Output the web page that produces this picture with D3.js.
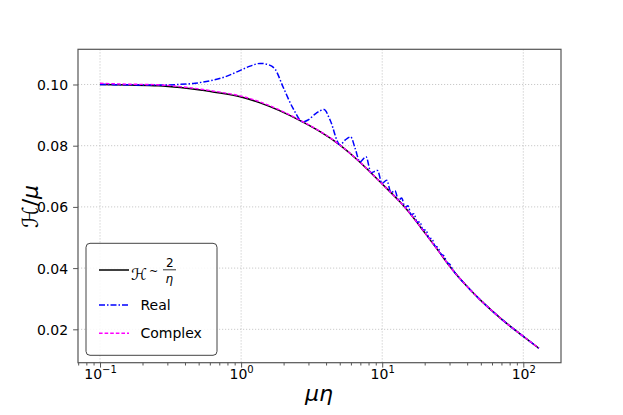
<!DOCTYPE html>
<html>
<head>
<meta charset="utf-8">
<script src="https://cdn.jsdelivr.net/npm/d3@7"></script>
<style>
  html, body { margin: 0; padding: 0; background: #fff; }
  svg { display: block; font-family: "DejaVu Sans", sans-serif; }
</style>
</head>
<body>
<svg id="chart" width="623" height="415"></svg>
<script>
// ---- data ----
const blackX = [0.1, 0.164, 0.258, 0.370, 0.513, 0.710, 1.0, 1.363, 1.89, 2.62, 3.63, 5.02, 6.96, 10, 13.4, 15.7, 18.5, 21.8, 25.7, 30.2, 35.5, 41.9, 49.3, 61.2, 77.8, 100, 128.9];
const blackY = [0.1000, 0.0998, 0.0996, 0.0990, 0.0982, 0.0972, 0.0959, 0.0940, 0.0914, 0.0882, 0.0846, 0.0802, 0.0746, 0.0675, 0.0616, 0.0579, 0.0537, 0.0493, 0.0449, 0.0405, 0.0366, 0.0330, 0.0297, 0.0257, 0.0216, 0.0177, 0.0138];

const complexX = [0.1, 0.164, 0.258, 0.370, 0.513, 0.710, 1.0, 1.363, 1.89, 2.62, 3.63, 5.02, 6.96, 10, 13.4, 15.7, 18.5, 21.8, 25.7, 30.2, 35.5, 41.9, 49.3, 61.2, 77.8, 100, 128.9];
const complexY = [0.1004, 0.1001, 0.0999, 0.0993, 0.0985, 0.0975, 0.0962, 0.0943, 0.0916, 0.0883, 0.0847, 0.0802, 0.0746, 0.0675, 0.0616, 0.0579, 0.0537, 0.0493, 0.0449, 0.0405, 0.0366, 0.0330, 0.0297, 0.0257, 0.0216, 0.0177, 0.0138];

const realX = [0.1, 0.164, 0.258, 0.358, 0.472, 0.613, 0.770, 0.953, 1.158, 1.363, 1.553, 1.741, 1.983, 2.334, 2.735, 2.98, 3.40, 3.87, 4.27, 5.02, 5.45, 5.98, 6.42, 6.96, 7.68, 8.33, 9.26, 9.97, 10.76, 11.54, 12.32, 13.04, 13.74, 14.51, 15.23, 16.00, 16.80, 17.64, 18.52, 19.45, 20.43, 21.45, 22.53, 23.65, 24.85, 26.09, 27.40, 28.77, 30.21, 31.72, 35.5, 41.9, 49.3, 61.2, 77.8, 100, 128.9];
const realY = [0.1000, 0.0999, 0.0998, 0.1000, 0.1004, 0.1013, 0.1025, 0.1043, 0.1060, 0.1069, 0.1065, 0.1050, 0.0992, 0.0922, 0.0878, 0.0884, 0.0906, 0.0918, 0.0884, 0.0803, 0.0818, 0.0829, 0.0792, 0.0747, 0.0764, 0.0712, 0.0719, 0.0677, 0.0687, 0.0647, 0.0653, 0.0622, 0.0629, 0.0598, 0.0604, 0.0575, 0.0578, 0.0550, 0.0551, 0.0525, 0.0524, 0.0498, 0.0496, 0.0472, 0.0467, 0.0446, 0.0440, 0.0419, 0.0412, 0.0394, 0.0366, 0.0330, 0.0297, 0.0257, 0.0216, 0.0177, 0.0138];

const yTicks = [0.02, 0.04, 0.06, 0.08, 0.10];
const xMajorTicks = [0.1, 1, 10, 100];
const xTickExponents = ["\u22121", "0", "1", "2"];
const xMinorTicks = [0.07, 0.08, 0.09, 0.2, 0.3, 0.4, 0.5, 0.6, 0.7, 0.8, 0.9, 2, 3, 4, 5, 6, 7, 8, 9, 20, 30, 40, 50, 60, 70, 80, 90];
const legendLabels = ["Real", "Complex"];

// ---- layout ----
const L = 78, R = 561, T = 49.3, B = 362.7;
const svg = d3.select("#chart");

const x = d3.scaleLog().domain([0.0698, 185]).range([L, R]);
const y = d3.scaleLinear().domain([0.00909, 0.1115]).range([B, T]);

// grid
const grid = svg.append("g").attr("stroke", "#c4c4c4").attr("stroke-width", 0.9).attr("stroke-dasharray", "1.2,1.8");
grid.selectAll("line.gx").data(xMajorTicks).enter().append("line")
  .attr("x1", d => x(d)).attr("x2", d => x(d)).attr("y1", T).attr("y2", B);
grid.selectAll("line.gy").data(yTicks).enter().append("line")
  .attr("x1", L).attr("x2", R).attr("y1", d => y(d)).attr("y2", d => y(d));

// lines
const smooth = d3.line().x(d => x(d[0])).y(d => y(d[1])).curve(d3.curveNatural);
const wavy = d3.line().x(d => x(d[0])).y(d => y(d[1])).curve(d3.curveMonotoneX);
const zip = (a, b) => a.map((v, i) => [v, b[i]]);

svg.append("path").attr("d", smooth(zip(blackX, blackY)))
  .attr("fill", "none").attr("stroke", "#000").attr("stroke-width", 1.5);
svg.append("path").attr("d", wavy(zip(realX, realY)))
  .attr("fill", "none").attr("stroke", "#0000ff").attr("stroke-width", 1.5)
  .attr("stroke-dasharray", "6,2,1.5,2");
svg.append("path").attr("d", smooth(zip(complexX, complexY)))
  .attr("fill", "none").attr("stroke", "#ff00ff").attr("stroke-width", 1.4)
  .attr("stroke-dasharray", "3.6,2");

// axes
const axisColor = "#555";
const yAxis = svg.append("g").attr("transform", `translate(${L},0)`)
  .call(d3.axisLeft(y).tickValues(yTicks).tickFormat(d3.format(".2f")).tickSize(4.9).tickPadding(5));
const xAxis = svg.append("g").attr("transform", `translate(0,${B})`)
  .call(d3.axisBottom(x).tickValues(xMajorTicks).tickFormat("").tickSize(4.9));
const xMinor = svg.append("g").attr("transform", `translate(0,${B})`)
  .call(d3.axisBottom(x).tickValues(xMinorTicks).tickFormat("").tickSize(2.8));
[yAxis, xAxis, xMinor].forEach(g => {
  g.select(".domain").remove();
  g.selectAll(".tick line").attr("stroke", axisColor).attr("stroke-width", 1);
  g.selectAll("text").attr("font-family", "DejaVu Sans").attr("font-size", 14).attr("fill", "#000");
});
yAxis.selectAll(".tick text").attr("dy", "0.36em");

// x tick labels with superscripts
xAxis.selectAll(".tick").each(function (d, i) {
  const t = d3.select(this).append("text")
    .attr("x", 0).attr("y", 16).attr("text-anchor", "middle")
    .attr("font-family", "DejaVu Sans").attr("font-size", 14).attr("fill", "#000");
  t.append("tspan").text("10");
  t.append("tspan").attr("dy", -6).attr("font-size", 10).text(xTickExponents[i]);
});

// frame
svg.append("rect").attr("x", L).attr("y", T).attr("width", R - L).attr("height", B - T)
  .attr("fill", "none").attr("stroke", axisColor).attr("stroke-width", 1.2);

// axis labels
svg.append("text").attr("transform", "translate(38,206.5) rotate(-90)")
  .attr("text-anchor", "middle").attr("font-size", 22).attr("font-family", "DejaVu Sans")
  .html('<tspan font-style="italic">\u210B</tspan>/<tspan font-style="italic">\u03BC</tspan>');
svg.append("text").attr("x", 319).attr("y", 401)
  .attr("text-anchor", "middle").attr("font-size", 22).attr("font-style", "italic")
  .attr("font-family", "DejaVu Sans").text("\u03BC\u03B7");

// legend
const lg = svg.append("g");
lg.append("rect").attr("x", 86).attr("y", 243.3).attr("width", 131).attr("height", 112)
  .attr("rx", 4).attr("fill", "#fff").attr("fill-opacity", 0.85).attr("stroke", "#444").attr("stroke-width", 1);
const hx1 = 99, hx2 = 129;
lg.append("line").attr("x1", hx1).attr("x2", hx2).attr("y1", 270).attr("y2", 270)
  .attr("stroke", "#000").attr("stroke-width", 1.5);
lg.append("line").attr("x1", hx1).attr("x2", hx2).attr("y1", 305).attr("y2", 305)
  .attr("stroke", "#0000ff").attr("stroke-width", 1.5).attr("stroke-dasharray", "6,2,1.5,2");
lg.append("line").attr("x1", hx1).attr("x2", hx2).attr("y1", 333.3).attr("y2", 333.3)
  .attr("stroke", "#ff00ff").attr("stroke-width", 1.4).attr("stroke-dasharray", "3.6,2");

// math label  H ~ 2/eta
lg.append("text").attr("x", 131).attr("y", 280).attr("font-size", 16).attr("font-style", "italic")
  .attr("font-family", "DejaVu Sans").text("\u210B");
lg.append("text").attr("x", 149).attr("y", 275).attr("font-size", 11)
  .attr("font-family", "DejaVu Sans").text("~");
lg.append("text").attr("x", 166).attr("y", 266.5).attr("font-size", 12)
  .attr("font-family", "DejaVu Sans").text("2");
lg.append("text").attr("x", 165.5).attr("y", 282.5).attr("font-size", 12).attr("font-style", "italic")
  .attr("font-family", "DejaVu Sans").text("\u03B7");
lg.append("line").attr("x1", 163).attr("x2", 176).attr("y1", 269.8).attr("y2", 269.8)
  .attr("stroke", "#000").attr("stroke-width", 0.8);

lg.selectAll("text.lab").data(legendLabels).enter().append("text").attr("class", "lab")
  .attr("x", 140.5).attr("y", (d, i) => [310, 338.3][i])
  .attr("font-size", 14).attr("font-family", "DejaVu Sans").text(d => d);
</script>
</body>
</html>
